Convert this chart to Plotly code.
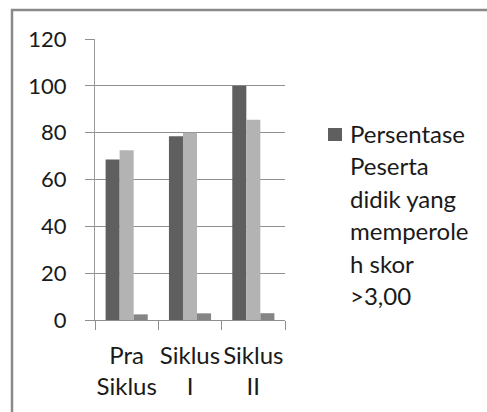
import plotly.graph_objects as go

categories = ["Pra Siklus", "Siklus I", "Siklus II"]
tick_labels = ["Pra<br>Siklus", "Siklus<br>I", "Siklus<br>II"]
series_names = [
    "Persentase Peserta didik yang memperoleh skor >3,00",
    "Seri 2",
    "Seri 3",
]
series_1 = [68.5, 78.5, 100]
series_2 = [72.5, 80, 85.5]
series_3 = [2.4, 2.85, 2.9]
legend_lines = ["Persentase", "Peserta", "didik yang", "memperole", "h skor", ">3,00"]
y_ticks = [0, 20, 40, 60, 80, 100, 120]

FONT = "Lato"
FS = 24
colors = ["#5f5f5f", "#b3b3b3", "#858585"]

fig = go.Figure()
for name, vals, col in zip(series_names, [series_1, series_2, series_3], colors):
    fig.add_trace(go.Bar(x=categories, y=vals, name=name, marker_color=col,
                         marker_line_width=0, showlegend=False))

# plot area: x 95..285, y 39..320 (px)
L, R, T, B = 95, 285, 39, 320
W, H = 487, 412
pw, ph = R - L, B - T

def px_x(x):
    return (x - L) / pw

def px_y(y):
    return (B - y) / ph

# outer frame
fig.add_shape(type="rect", xref="paper", yref="paper",
              x0=px_x(12), x1=px_x(520), y0=px_y(10), y1=px_y(440),
              line=dict(color="#8a8a8a", width=2.5), fillcolor="rgba(0,0,0,0)")

# legend (swatch + text lines)
fig.add_shape(type="rect", xref="paper", yref="paper",
              x0=px_x(328), x1=px_x(342), y0=px_y(141), y1=px_y(128),
              line_width=0, fillcolor=colors[0])
line_y = [133, 165.5, 198, 230.5, 263, 295.5]
for txt, yy in zip(legend_lines, line_y):
    fig.add_annotation(text=txt, xref="paper", yref="paper",
                       x=px_x(348), y=px_y(yy), xanchor="left", yanchor="middle",
                       showarrow=False, font=dict(family=FONT, size=FS, color="#1a1a1a"))

fig.update_layout(
    width=W, height=H,
    margin=dict(l=L, r=W - R, t=T, b=H - B, pad=0, autoexpand=False),
    paper_bgcolor="white", plot_bgcolor="white",
    barmode="group", bargap=0.335, bargroupgap=0,
    font=dict(family=FONT, size=FS, color="#1a1a1a"),
    showlegend=False,
)
fig.update_yaxes(range=[0, 120], tickvals=y_ticks, showgrid=True,
                 tickfont=dict(size=22),
                 gridcolor="#8f8f8f", gridwidth=1.3, automargin=False,
                 showline=True, linecolor="#9a9a9a", linewidth=1.3,
                 ticks="outside", ticklen=9, tickcolor="#8f8f8f", tickwidth=1.3,
                 ticklabelstandoff=14, zeroline=False)
fig.update_xaxes(tickvals=categories, ticktext=tick_labels, tickson="boundaries",
                 tickangle=0, automargin=False,
                 showline=True, linecolor="#8f8f8f", linewidth=1.3,
                 ticks="outside", ticklen=9, tickcolor="#8f8f8f", tickwidth=1.3,
                 ticklabelstandoff=14, showgrid=False)

fig.write_html("out.html", config={"displayModeBar": False},
               post_script="document.body.style.margin='0';document.body.style.overflow='hidden';")
